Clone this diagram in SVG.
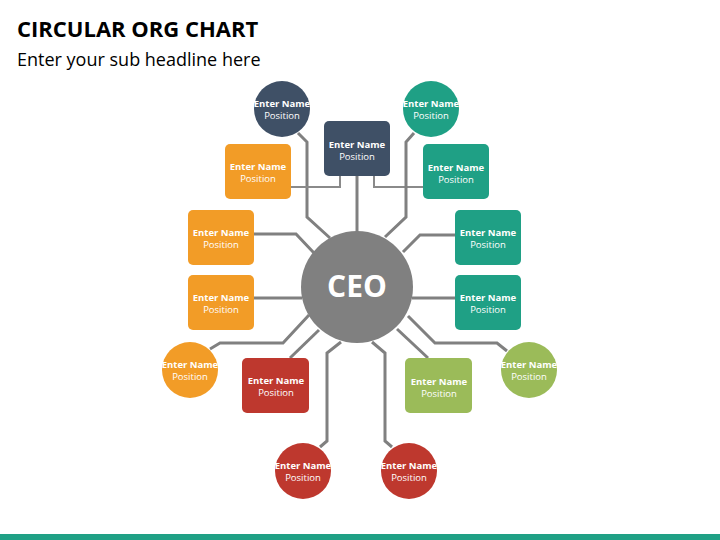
<svg xmlns="http://www.w3.org/2000/svg" width="720" height="540" viewBox="0 0 720 540">
<style>
text{font-family:"Open Sans","Liberation Sans",sans-serif;fill:#fff;text-anchor:middle}
.n{font-size:9.5px;font-weight:bold}
.p{font-size:9.5px}
.c{fill:none;stroke:#808080;stroke-width:3;stroke-linejoin:miter}
.t{fill:none;stroke:#8a8a8a;stroke-width:2}
.o{fill:#F29C27}.g{fill:#1FA085}.d{fill:#3F5066}.r{fill:#BE382E}.l{fill:#9BBB59}
</style>
<rect width="720" height="540" fill="#fff"/>
<text x="17" y="37" style="fill:#000;text-anchor:start;font-size:22px;font-weight:bold">CIRCULAR ORG CHART</text>
<text x="17" y="66" style="fill:#000;text-anchor:start;font-size:18px">Enter your sub headline here</text>
<rect x="0" y="534" width="720" height="6" fill="#1FA085"/>
<g id="connectors">
<polyline class="c" points="298,133 307,142 307,217 330,238"/>
<polyline class="c" points="357,176 357,232"/>
<polyline class="t" points="291,187 340,187 340,176"/>
<polyline class="t" points="423,187 374,187 374,176"/>
<polyline class="c" points="414,133 406,142 406,217 385,237"/>
<polyline class="c" points="254,234 296,234 314,253"/>
<polyline class="c" points="455,235 420,235 403,252"/>
<polyline class="c" points="254,298 302,298"/>
<polyline class="c" points="455,298 412,298"/>
<polyline class="c" points="210,349 220,343 283,343 309,315"/>
<polyline class="c" points="290,358 319,330"/>
<polyline class="c" points="320,447 327,441 327,353 341,342"/>
<polyline class="c" points="392,447 385,441 385,353 372,342"/>
<polyline class="c" points="428,358 397,329"/>
<polyline class="c" points="507,351 497,343 435,343 408,316"/>
</g>
<g id="ceo"><circle cx="357" cy="287" r="56" fill="#808080"/><text x="357" y="297" style="font-size:30px;font-weight:bold">CEO</text></g>
<g id="n1"><circle class="d" cx="282" cy="109" r="28"/><text class="n" x="282" y="107">Enter Name</text><text class="p" x="282" y="119">Position</text></g>
<g id="n2"><rect class="d" x="324" y="121" width="66" height="55" rx="5"/><text class="n" x="357" y="148">Enter Name</text><text class="p" x="357" y="160">Position</text></g>
<g id="n3"><circle class="g" cx="431" cy="109" r="28"/><text class="n" x="431" y="107">Enter Name</text><text class="p" x="431" y="119">Position</text></g>
<g id="n4"><rect class="o" x="225" y="144" width="66" height="55" rx="5"/><text class="n" x="258" y="170">Enter Name</text><text class="p" x="258" y="182">Position</text></g>
<g id="n5"><rect class="g" x="423" y="144" width="66" height="55" rx="5"/><text class="n" x="456" y="171">Enter Name</text><text class="p" x="456" y="183">Position</text></g>
<g id="n6"><rect class="o" x="188" y="210" width="66" height="55" rx="5"/><text class="n" x="221" y="236">Enter Name</text><text class="p" x="221" y="248">Position</text></g>
<g id="n7"><rect class="g" x="455" y="210" width="66" height="55" rx="5"/><text class="n" x="488" y="236">Enter Name</text><text class="p" x="488" y="248">Position</text></g>
<g id="n8"><rect class="o" x="188" y="275" width="66" height="55" rx="5"/><text class="n" x="221" y="301">Enter Name</text><text class="p" x="221" y="313">Position</text></g>
<g id="n9"><rect class="g" x="455" y="275" width="66" height="55" rx="5"/><text class="n" x="488" y="301">Enter Name</text><text class="p" x="488" y="313">Position</text></g>
<g id="n10"><circle class="o" cx="190" cy="370" r="28"/><text class="n" x="190" y="368">Enter Name</text><text class="p" x="190" y="380">Position</text></g>
<g id="n11"><rect class="r" x="242" y="358" width="67" height="55" rx="5"/><text class="n" x="276" y="384">Enter Name</text><text class="p" x="276" y="396">Position</text></g>
<g id="n12"><rect class="l" x="405" y="358" width="67" height="55" rx="5"/><text class="n" x="439" y="385">Enter Name</text><text class="p" x="439" y="397">Position</text></g>
<g id="n13"><circle class="l" cx="529" cy="370" r="28"/><text class="n" x="529" y="368">Enter Name</text><text class="p" x="529" y="380">Position</text></g>
<g id="n14"><circle class="r" cx="303" cy="471" r="28"/><text class="n" x="303" y="469">Enter Name</text><text class="p" x="303" y="481">Position</text></g>
<g id="n15"><circle class="r" cx="409" cy="471" r="28"/><text class="n" x="409" y="469">Enter Name</text><text class="p" x="409" y="481">Position</text></g>
</svg>
